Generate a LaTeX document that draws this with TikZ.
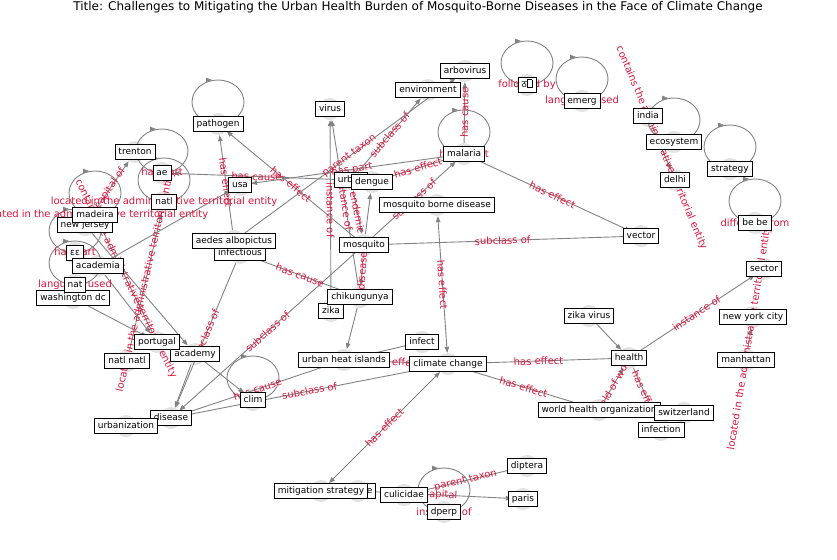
\documentclass[tikz,border=0pt]{standalone}
\usepackage{fontspec}
\setmainfont{DejaVu Sans}
\newfontfamily\devfont[Script=Devanagari]{Noto Sans}
\usetikzlibrary{arrows.meta,calc}
\definecolor{elab}{RGB}{220,20,60}
\definecolor{edgec}{RGB}{130,130,130}
\definecolor{ncirc}{RGB}{226,226,226}
\tikzset{
 nc/.style={circle, fill=ncirc, minimum size=22pt, inner sep=0pt},
 nbox/.style={draw=black, line width=0.8pt, fill=white, font=\fontsize{9}{10}\selectfont, inner xsep=3.5pt, inner ysep=3pt, text height=7pt, text depth=2pt},
 ed/.style={draw=edgec, line width=0.9pt, -{Triangle[length=6pt,width=4.5pt]}},
 bed/.style={draw=edgec, line width=0.9pt, {Triangle[length=6pt,width=4.5pt]}-{Triangle[length=6pt,width=4.5pt]}},
 pl/.style={draw=edgec, line width=0.9pt},
 el/.style={text=elab, font=\fontsize{10}{11}\selectfont, sloped, inner sep=0pt, midway},
 ll/.style={text=elab, font=\fontsize{10}{11}\selectfont, inner sep=0pt},
}
\newcommand\nd[3]{\node[nc] (#1) at (#2,#3) {};}
\newcommand\selfloop[1]{%
 \draw[pl] ([yshift=22pt]#1.center) ellipse [x radius=26pt, y radius=22pt];
 \draw[draw=edgec, -{Triangle[length=6pt,width=4.5pt]}] ([xshift=-9pt,yshift=44pt]#1.center) -- ++(3pt,0);}
\newcommand\tofu{{\fboxsep=0pt\fboxrule=0.6pt\fbox{\rule{0pt}{7.5pt}\hspace{4pt}}}}
\begin{document}
\begin{tikzpicture}[x=1pt,y=-1pt]
\useasboundingbox (0,0) rectangle (837,559);
\node[font=\fontsize{12}{14}\selectfont] (title) at (418,7) {Title: Challenges to Mitigating the Urban Health Burden of Mosquito-Borne Diseases in the Face of Climate Change};
% node circles
\nd{pathogen}{218}{124}
\nd{trenton}{135}{152}
\nd{ae}{162}{173}
\nd{natl}{164}{202}
\nd{usa}{240}{185}
\nd{madeira}{95}{215}
\nd{newjersey}{85}{225}
\nd{eps}{75}{253}
\nd{academia}{98}{266}
\nd{nat}{75}{285}
\nd{wdc}{73}{298}
\nd{aedes}{234}{241}
\nd{infectious}{240}{253}
\nd{virus}{330}{109}
\nd{environment}{428}{90}
\nd{arbovirus}{465}{71}
\nd{malaria}{464}{154}
\nd{urban}{351}{180}
\nd{dengue}{372}{182}
\nd{mbd}{437}{205}
\nd{mosquito}{364}{245}
\nd{vector}{641}{236}
\nd{chik}{360}{297}
\nd{zika}{331}{311}
\nd{infect}{422}{342}
\nd{cc}{448}{364}
\nd{uhi}{344}{360}
\nd{portugal}{157}{342}
\nd{natlnatl}{127}{361}
\nd{academy}{195}{354}
\nd{clim}{253}{400}
\nd{disease}{171}{418}
\nd{urbanization}{126}{426}
\nd{mitigation}{321}{491}
\nd{france}{358}{491}
\nd{culicidae}{404}{495}
\nd{dperp}{444}{512}
\nd{diptera}{527}{466}
\nd{paris}{523}{499}
\nd{zikavirus}{589}{316}
\nd{health}{629}{358}
\nd{who}{599}{410}
\nd{switzerland}{684}{413}
\nd{infection}{661}{430}
\nd{nyc}{753}{317}
\nd{manhattan}{746}{360}
\nd{sector}{764}{269}
\nd{bebe}{755}{223}
\nd{strategy}{730}{169}
\nd{delhi}{675}{180}
\nd{ecosystem}{674}{142}
\nd{india}{648}{116}
\nd{emerg}{582}{101}
\nd{glyph}{527}{85}
% self loops
\selfloop{pathogen}
\selfloop{ae}
\selfloop{natl}
\selfloop{madeira}
\selfloop{eps}
\selfloop{nat}
\selfloop{malaria}
\selfloop{clim}
\selfloop{dperp}
\selfloop{glyph}
\selfloop{emerg}
\selfloop{ecosystem}
\selfloop{strategy}
\selfloop{bebe}
% edges
\draw[ed] (mosquito) -- node[el]{has effect} (pathogen);
\draw[ed] (aedes) -- node[el]{has effect} (pathogen);
\draw[ed] (urban) -- node[el]{has cause} (ae);
\draw[ed] (malaria) -- node[el]{has part} (usa);
\draw[ed] (urban) -- node[el]{subclass of} (environment);
\draw[ed] (aedes) -- node[el]{parent taxon} (arbovirus);
\draw[ed] (malaria) -- node[el]{has cause} (arbovirus);
\draw[ed] (newjersey) -- node[el]{capital of} (trenton);
\draw[ed] (portugal) -- node[el]{contains the administrative territorial entity} (madeira);
\draw[ed] (natlnatl) -- node[el]{located in the administrative territorial entity} (natl);
\draw[ed] (academia) -- (usa);
\draw[ed] (academia) -- (portugal);
\draw[ed] (wdc) -- (portugal);
\draw[ed] (newjersey) -- (academy);
\draw[ed] (academy) -- (disease);
\draw[ed] (academy) -- (clim);
\draw[ed] (infectious) -- node[el]{subclass of} (disease);
\draw[ed] (mosquito) -- node[el]{subclass of} (disease);
\draw[ed] (uhi) -- node[el]{has cause} (disease);
\draw[ed] (cc) -- node[el]{subclass of} (disease);
\draw[ed] (uhi) -- node[el]{has effect} (cc);
\draw[ed] (uhi) -- (infect);
\draw[ed] (chik) -- (uhi);
\draw[bed] (mbd) -- node[el]{has effect} (cc);
\draw[bed] (mitigation) -- node[el]{has effect} (cc);
\draw[ed] (cc) -- node[el]{has effect} (health);
\draw[ed] (cc) -- node[el]{has effect} (who);
\draw[ed] (zikavirus) -- (health);
\draw[ed] (health) -- node[el]{instance of} (sector);
\draw[ed] (who) -- node[el]{field of work} (health);
\draw[ed] (health) -- node[el]{has effect} (infection);
\draw[ed] (manhattan) -- node[el]{located in the administrative territorial entity} (nyc);
\draw[ed] (india) -- node[el]{contains the administrative territorial entity} (delhi);
\draw[ed] (malaria) -- node[el]{has effect} (vector);
\draw[ed] (vector) -- node[el]{subclass of} (mosquito);
\draw[ed] (dengue) -- node[el]{has effect} (malaria);
\draw[ed] (mosquito) -- node[el]{subclass of} (malaria);
\draw[ed] (mosquito) -- (dengue);
\draw[ed] (urban) -- node[el]{endemic} (mosquito);
\draw[ed] (chik) -- node[el]{instance of} (virus);
\draw[ed] (zika) -- node[el]{instance of} (virus);
\draw[ed] (infectious) -- node[el]{has cause} (chik);
\draw[ed] (mosquito) -- node[el]{disease} (chik);
\draw[ed] (culicidae) -- node[el]{parent taxon} (diptera);
\draw[ed] (france) -- node[el]{capital} (paris);
% loop labels
\node[ll] at (ae) {has part};
\node[ll] at (natl) {located in the administrative territorial entity};
\node[ll] at (madeira) {located in the administrative territorial entity};
\node[ll] at (eps) {has part};
\node[ll] at (nat) {language used};
\node[ll] at (malaria) {has effect};
\node[ll] at (dperp) {instance of};
\node[ll] at (glyph) {followed by};
\node[ll] at (emerg) {language used};
\node[ll] at (bebe) {different from};
% boxes
\node[nbox] (pathogen-b) at (pathogen) {pathogen};
\node[nbox] (trenton-b) at (trenton) {trenton};
\node[nbox] (ae-b) at (ae) {ae};
\node[nbox] (natl-b) at (natl) {natl};
\node[nbox] (usa-b) at (usa) {usa};
\node[nbox] (newjersey-b) at (newjersey) {new jersey};
\node[nbox] (madeira-b) at (madeira) {madeira};
\node[nbox] (eps-b) at (eps) {εε};
\node[nbox] (academia-b) at (academia) {academia};
\node[nbox] (wdc-b) at (wdc) {washington dc};
\node[nbox] (nat-b) at (nat) {nat};
\node[nbox] (infectious-b) at (infectious) {infectious};
\node[nbox] (aedes-b) at (aedes) {aedes albopictus};
\node[nbox] (virus-b) at (virus) {virus};
\node[nbox] (environment-b) at (environment) {environment};
\node[nbox] (arbovirus-b) at (arbovirus) {arbovirus};
\node[nbox] (malaria-b) at (malaria) {malaria};
\node[nbox] (urban-b) at (urban) {urban};
\node[nbox] (dengue-b) at (dengue) {dengue};
\node[nbox] (mbd-b) at (mbd) {mosquito borne disease};
\node[nbox] (mosquito-b) at (mosquito) {mosquito};
\node[nbox] (vector-b) at (vector) {vector};
\node[nbox] (zika-b) at (zika) {zika};
\node[nbox] (chik-b) at (chik) {chikungunya};
\node[nbox] (infect-b) at (infect) {infect};
\node[nbox] (cc-b) at (cc) {climate change};
\node[nbox] (uhi-b) at (uhi) {urban heat islands};
\node[nbox] (academy-b) at (academy) {academy};
\node[nbox] (natlnatl-b) at (natlnatl) {natl natl};
\node[nbox] (portugal-b) at (portugal) {portugal};
\node[nbox] (clim-b) at (clim) {clim};
\node[nbox] (disease-b) at (disease) {disease};
\node[nbox] (urbanization-b) at (urbanization) {urbanization};
\node[nbox] (france-b) at (france) {france};
\node[nbox] (mitigation-b) at (mitigation) {mitigation strategy};
\node[nbox] (culicidae-b) at (culicidae) {culicidae};
\node[nbox] (dperp-b) at (dperp) {dperp};
\node[nbox] (diptera-b) at (diptera) {diptera};
\node[nbox] (paris-b) at (paris) {paris};
\node[nbox] (zikavirus-b) at (zikavirus) {zika virus};
\node[nbox] (health-b) at (health) {health};
\node[nbox] (who-b) at (who) {world health organization};
\node[nbox] (infection-b) at (infection) {infection};
\node[nbox] (switzerland-b) at (switzerland) {switzerland};
\node[nbox] (nyc-b) at (nyc) {new york city};
\node[nbox] (manhattan-b) at (manhattan) {manhattan};
\node[nbox] (sector-b) at (sector) {sector};
\node[nbox] (bebe-b) at (bebe) {be be};
\node[nbox] (strategy-b) at (strategy) {strategy};
\node[nbox] (delhi-b) at (delhi) {delhi};
\node[nbox] (ecosystem-b) at (ecosystem) {ecosystem};
\node[nbox] (india-b) at (india) {india};
\node[nbox] (emerg-b) at (emerg) {emerg};
\node[nbox] (glyph-b) at (glyph) {{\devfont ठ}\kern0.5pt\tofu};
\end{tikzpicture}
\end{document}
